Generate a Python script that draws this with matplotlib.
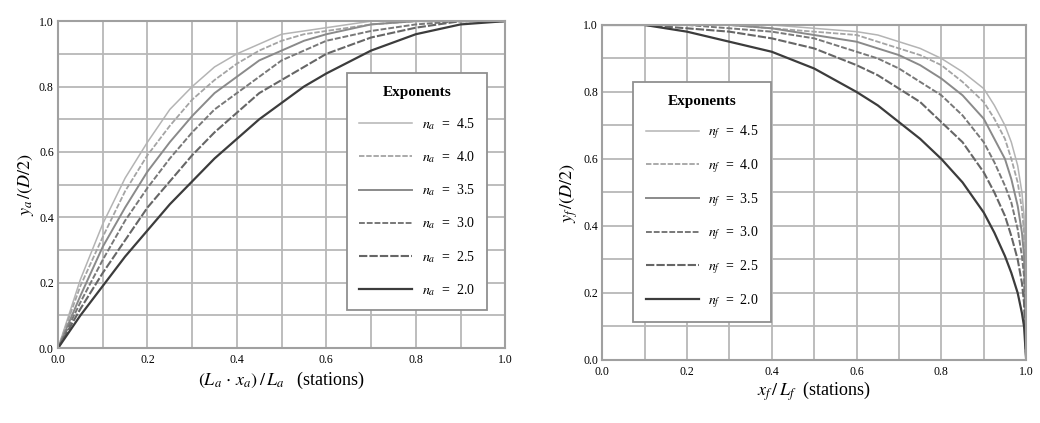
import matplotlib.pyplot as plt

plt.rcParams['font.family'] = ['Liberation Serif', 'DejaVu Serif']
plt.rcParams['mathtext.fontset'] = 'stix'

# afterbody (left) : stations and y_a/(D/2)
xa = [0.0, 0.05, 0.1, 0.15, 0.2, 0.25, 0.3, 0.35, 0.4, 0.45, 0.5, 0.55, 0.6, 0.7, 0.8, 0.9, 1.0]
ya_45 = [0.0, 0.21, 0.38, 0.52, 0.63, 0.73, 0.80, 0.86, 0.90, 0.93, 0.96, 0.97, 0.98, 1.0, 1.0, 1.0, 1.0]
ya_40 = [0.0, 0.19, 0.34, 0.48, 0.59, 0.68, 0.76, 0.82, 0.87, 0.91, 0.94, 0.96, 0.97, 0.99, 1.0, 1.0, 1.0]
ya_35 = [0.0, 0.16, 0.31, 0.43, 0.54, 0.63, 0.71, 0.78, 0.83, 0.88, 0.91, 0.94, 0.96, 0.99, 1.0, 1.0, 1.0]
ya_30 = [0.0, 0.14, 0.27, 0.39, 0.49, 0.58, 0.66, 0.73, 0.78, 0.83, 0.88, 0.91, 0.94, 0.97, 0.99, 1.0, 1.0]
ya_25 = [0.0, 0.12, 0.23, 0.33, 0.43, 0.51, 0.59, 0.66, 0.72, 0.78, 0.82, 0.86, 0.90, 0.95, 0.98, 1.0, 1.0]
ya_20 = [0.0, 0.10, 0.19, 0.28, 0.36, 0.44, 0.51, 0.58, 0.64, 0.70, 0.75, 0.80, 0.84, 0.91, 0.96, 0.99, 1.0]

# forebody (right) : stations and y_f/(D/2)
xf = [0.0, 0.1, 0.2, 0.3, 0.4, 0.5, 0.6, 0.65, 0.7, 0.75, 0.8, 0.85, 0.9, 0.925, 0.95, 0.965,
      0.98, 0.99, 0.995, 1.0]
yf_45 = [1.0, 1.0, 1.0, 1.0, 1.0, 0.99, 0.98, 0.97, 0.95, 0.93, 0.90, 0.86, 0.81, 0.76, 0.70, 0.65,
         0.58, 0.50, 0.43, 0.0]
yf_40 = [1.0, 1.0, 1.0, 1.0, 0.99, 0.98, 0.97, 0.95, 0.93, 0.91, 0.88, 0.83, 0.77, 0.72, 0.66, 0.60,
         0.53, 0.45, 0.38, 0.0]
yf_35 = [1.0, 1.0, 1.0, 1.0, 0.99, 0.97, 0.95, 0.93, 0.91, 0.88, 0.84, 0.79, 0.72, 0.66, 0.60, 0.54,
         0.46, 0.38, 0.31, 0.0]
yf_30 = [1.0, 1.0, 1.0, 0.99, 0.98, 0.96, 0.92, 0.90, 0.87, 0.83, 0.79, 0.73, 0.65, 0.59, 0.52, 0.47,
         0.39, 0.31, 0.25, 0.0]
yf_25 = [1.0, 1.0, 0.99, 0.98, 0.96, 0.93, 0.88, 0.85, 0.81, 0.77, 0.71, 0.65, 0.56, 0.50, 0.43, 0.37,
         0.30, 0.23, 0.17, 0.0]
yf_20 = [1.0, 1.0, 0.98, 0.95, 0.92, 0.87, 0.80, 0.76, 0.71, 0.66, 0.60, 0.53, 0.44, 0.38, 0.31, 0.26,
         0.20, 0.14, 0.10, 0.0]

exps = ['4.5', '4.0', '3.5', '3.0', '2.5', '2.0']
ticks = [0.0, 0.2, 0.4, 0.6, 0.8, 1.0]
ticklabels = ['0.0', '0.2', '0.4', '0.6', '0.8', '1.0']

colors = ['#b4b4b4', '#a4a4a4', '#8a8a8a', '#787878', '#666666', '#3c3c3c']
styles = ['-', (0, (3, 1)), '-', (0, (3, 1)), (0, (4, 1)), '-']
widths = [1.1, 1.3, 1.4, 1.4, 1.5, 1.6]

fig = plt.figure(figsize=(10.4, 4.23), dpi=100)
ax1 = fig.add_axes([0.0558, 0.177, 0.43, 0.773])
ax2 = fig.add_axes([0.579, 0.149, 0.4077, 0.792])


def style_axes(ax):
    ax.set_xlim(0, 1)
    ax.set_ylim(0, 1)
    ax.set_xticks([i / 10 for i in range(11)], minor=True)
    ax.set_yticks([i / 10 for i in range(11)], minor=True)
    ax.set_xticks(ticks)
    ax.set_yticks(ticks)
    ax.set_xticklabels(ticklabels)
    ax.set_yticklabels(ticklabels)
    ax.grid(True, which='both', color='#b8b8b8', lw=1.3)
    ax.set_axisbelow(True)
    ax.tick_params(which='both', length=0, labelsize=8.5)
    ax.tick_params(axis='x', pad=4)
    ax.tick_params(axis='y', pad=3)
    for s in ax.spines.values():
        s.set_color('#a0a0a0')
        s.set_linewidth(1.5)


for ys, e, c, ls, lw in zip([ya_45, ya_40, ya_35, ya_30, ya_25, ya_20], exps, colors, styles, widths):
    ax1.plot(xa, ys, color=c, ls=ls, lw=lw, label=r'$n_a$  =  ' + e)
for ys, e, c, ls, lw in zip([yf_45, yf_40, yf_35, yf_30, yf_25, yf_20], exps, colors, styles, widths):
    ax2.plot(xf, ys, color=c, ls=ls, lw=lw, label=r'$n_f$  =  ' + e)

style_axes(ax1)
style_axes(ax2)

ax1.set_xlabel(r'$(L_a\,\cdot\,x_a)\,/\,L_a$   (stations)', fontsize=13, labelpad=3)
ax1.set_ylabel(r'$y_a\,/(D/2)$', fontsize=13, labelpad=2)
ax2.set_xlabel(r'$x_f\,/\,L_f$  (stations)', fontsize=13, labelpad=1)
ax2.set_ylabel(r'$y_f\,/(D/2)$', fontsize=13, labelpad=2)

for ax, loc, anchor, sp in [(ax1, 'upper right', (0.975, 0.862), 1.25),
                            (ax2, 'upper left', (0.057, 0.85), 1.15)]:
    leg = ax.legend(loc=loc, bbox_to_anchor=anchor, title='Exponents', fontsize=10,
                    title_fontproperties={'weight': 'bold', 'size': 11},
                    labelspacing=sp, handlelength=3.8, handletextpad=0.7, borderpad=0.9,
                    fancybox=False, edgecolor='#909090', framealpha=1)
    leg.get_frame().set_linewidth(1.3)

plt.savefig('out.png', dpi=100)
